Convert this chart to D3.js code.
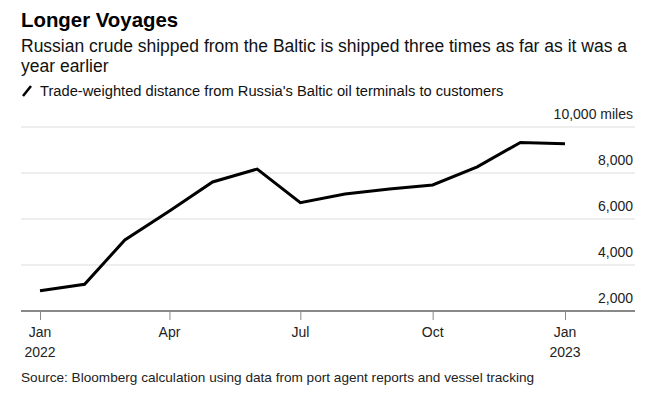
<!DOCTYPE html>
<html>
<head>
<meta charset="utf-8">
<script src="https://cdn.jsdelivr.net/npm/d3@7"></script>
<style>
  body { margin: 0; background: #fff; }
  svg { display: block; font-family: "Liberation Sans", Arial, sans-serif; }
</style>
</head>
<body>
<div id="chart"></div>
<script>
const months = ['2022-01', '2022-02', '2022-03', '2022-04', '2022-05', '2022-06', '2022-07',
  '2022-08', '2022-09', '2022-10', '2022-11', '2022-12', '2023-01'];
const distance = [2880, 3160, 5090, 6350, 7610, 8170, 6710, 7090, 7300, 7480, 8270, 9330, 9275];
const yTicks = [2000, 4000, 6000, 8000, 10000];
const xTicks = ['2022-01', '2022-04', '2022-07', '2022-10', '2023-01'];

const width = 646, height = 399;
const margin = { top: 127, right: 11, bottom: 88, left: 21 };
const parse = d3.timeParse('%Y-%m');
const data = months.map((m, i) => ({ date: parse(m), value: distance[i] }));

const svg = d3.select('#chart').append('svg')
  .attr('width', width)
  .attr('height', height);

// titles
svg.append('text').attr('x', 21).attr('y', 27)
  .attr('font-size', 20.4).attr('font-weight', 'bold').attr('fill', '#000')
  .text('Longer Voyages');
svg.append('text').attr('x', 21).attr('y', 52)
  .attr('font-size', 17.5).attr('fill', '#111')
  .text('Russian crude shipped from the Baltic is shipped three times as far as it was a');
svg.append('text').attr('x', 21).attr('y', 72)
  .attr('font-size', 17.5).attr('fill', '#111')
  .text('year earlier');

// legend
svg.append('line')
  .attr('x1', 23).attr('y1', 96).attr('x2', 31).attr('y2', 86)
  .attr('stroke', '#000').attr('stroke-width', 2.5);
svg.append('text').attr('x', 40).attr('y', 96)
  .attr('font-size', 14.7).attr('fill', '#111')
  .text("Trade-weighted distance from Russia's Baltic oil terminals to customers");

const innerW = width - margin.left - margin.right;
const innerH = height - margin.top - margin.bottom;

const x = d3.scaleTime()
  .domain([parse('2022-01'), parse('2023-01')])
  .range([40 - margin.left, 565 - margin.left]);
const y = d3.scaleLinear()
  .domain([2000, 10000])
  .range([innerH, 0]);

const g = svg.append('g')
  .attr('transform', `translate(${margin.left},${margin.top})`);

// gridlines
g.append('g')
  .selectAll('line')
  .data(yTicks.filter(d => d > 2000))
  .join('line')
  .attr('x1', 0).attr('x2', innerW)
  .attr('y1', d => y(d)).attr('y2', d => y(d))
  .attr('stroke', '#ddd').attr('stroke-width', 1);

// y labels
g.append('g')
  .selectAll('text')
  .data(yTicks)
  .join('text')
  .attr('x', innerW - 2)
  .attr('y', d => y(d) - 8)
  .attr('text-anchor', 'end')
  .attr('font-size', 14)
  .attr('fill', '#222')
  .text(d => d3.format(',')(d) + (d === 10000 ? ' miles' : ''));

// x axis
const xAxis = g.append('g')
  .attr('transform', `translate(0,${innerH})`)
  .call(d3.axisBottom(x)
    .tickValues(xTicks.map(parse))
    .tickSize(9)
    .tickFormat(''));
xAxis.select('.domain').remove();
xAxis.selectAll('.tick line').attr('stroke', '#888');
xAxis.append('line')
  .attr('x1', 0).attr('x2', innerW)
  .attr('stroke', '#888').attr('stroke-width', 2);

const xLabels = g.append('g')
  .selectAll('g')
  .data(xTicks.map(parse))
  .join('g')
  .attr('transform', d => `translate(${x(d)},${innerH})`);
xLabels.append('text')
  .attr('y', 26)
  .attr('text-anchor', 'middle')
  .attr('font-size', 14)
  .attr('fill', '#222')
  .text(d => d3.timeFormat('%b')(d));
xLabels.filter(d => d.getMonth() === 0)
  .append('text')
  .attr('y', 46)
  .attr('text-anchor', 'middle')
  .attr('font-size', 14)
  .attr('fill', '#222')
  .text(d => d3.timeFormat('%Y')(d));

// line
g.append('path')
  .datum(data)
  .attr('fill', 'none')
  .attr('stroke', '#000')
  .attr('stroke-width', 3)
  .attr('stroke-linejoin', 'miter')
  .attr('d', d3.line().x(d => x(d.date)).y(d => y(d.value)));

// source
svg.append('text').attr('x', 21).attr('y', 382)
  .attr('font-size', 13.6).attr('fill', '#222')
  .text('Source: Bloomberg calculation using data from port agent reports and vessel tracking');
</script>
</body>
</html>
